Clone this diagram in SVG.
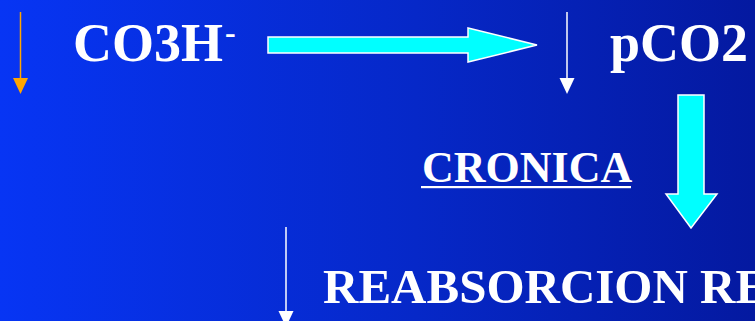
<svg xmlns="http://www.w3.org/2000/svg" width="755" height="321" viewBox="0 0 755 321">
<defs>
<linearGradient id="bg" x1="0" y1="0" x2="1" y2="0">
<stop offset="0" stop-color="#0735F4"/>
<stop offset="0.55" stop-color="#0628C8"/>
<stop offset="1" stop-color="#0419A0"/>
</linearGradient>
<style>
.t{font-family:"Liberation Serif","Times New Roman",serif;font-weight:bold;fill:#ffffff}
.big{stroke:#ffffff;stroke-width:1.5;fill:#00FFFF;stroke-linejoin:miter}
</style>
</defs>
<rect width="755" height="321" fill="url(#bg)"/>
<g id="connectors">
<g id="arrow-orange">
<line x1="20.5" y1="12" x2="20.5" y2="80" stroke="#FFA500" stroke-width="1.5"/>
<polygon points="13,78 28,78 20.5,94" fill="#FFA500"/>
</g>
<g id="arrow-white-1">
<line x1="567" y1="12" x2="567" y2="80" stroke="#ffffff" stroke-width="1.5"/>
<polygon points="559.5,78 574.5,78 567,94" fill="#ffffff"/>
</g>
<g id="arrow-white-2">
<line x1="286" y1="227" x2="286" y2="313" stroke="#ffffff" stroke-width="1.5"/>
<polygon points="278.5,311 293.5,311 286,327" fill="#ffffff"/>
</g>
<polygon id="arrow-cyan-right" class="big" points="268,37 468,37 468,28 537,45 468,62 468,53 268,53"/>
<polygon id="arrow-cyan-down" class="big" points="678,95 704,95 704,194 717,194 691,228 666,194 678,194"/>
</g>
<g id="node-co3h">
<text class="t" x="73" y="61" font-size="54">CO3H</text>
<text class="t" x="225" y="43" font-size="32">-</text>
</g>
<g id="node-pco2">
<text class="t" x="610" y="61" font-size="54">pCO2</text>
</g>
<g id="node-cronica">
<text class="t" x="422" y="182" font-size="44">CRONICA</text>
<rect x="421" y="186" width="210" height="2.2" fill="#ffffff"/>
</g>
<g id="node-reabsorcion">
<text class="t" x="323" y="303" font-size="49">REABSORCION RE</text>
</g>
</svg>
